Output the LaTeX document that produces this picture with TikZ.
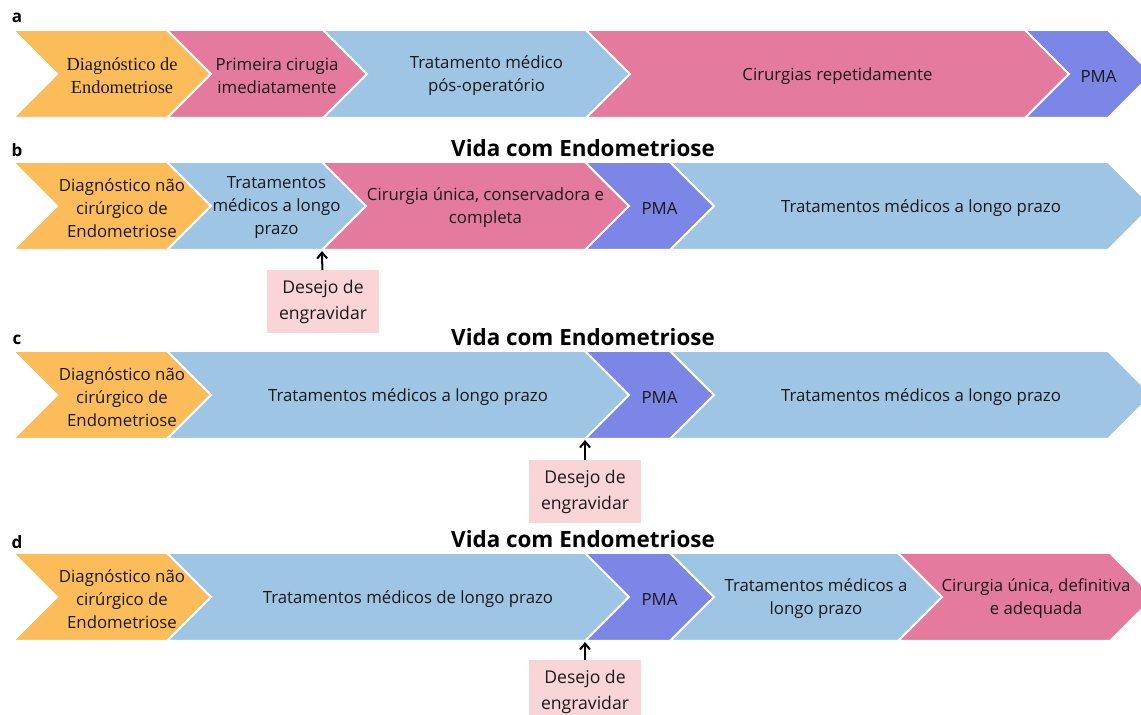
\documentclass[tikz,border=0pt]{standalone}
\usepackage{fontspec}
\setmainfont{Open Sans}
\newfontfamily\georgiaish{Liberation Serif}
\usetikzlibrary{arrows.meta}

\definecolor{diagcol}{RGB}{253,188,90}
\definecolor{surgcol}{RGB}{228,122,158}
\definecolor{medcol}{RGB}{159,197,228}
\definecolor{pmacol}{RGB}{123,134,230}
\definecolor{wishcol}{RGB}{250,213,215}
\definecolor{inkcol}{RGB}{25,25,25}

\tikzset{
  phase/.style={align=center, text=inkcol, font=\fontsize{8.4}{11.5}\selectfont},
  wishbox/.style={fill=wishcol, minimum width=56pt, minimum height=31.5pt, inner sep=0pt,
    align=center, text=inkcol, font=\fontsize{8.8}{13}\selectfont},
  rowtitle/.style={font=\fontsize{11.2}{13}\selectfont\bfseries},
  rowtag/.style={font=\fontsize{8.5}{10}\selectfont\bfseries},
  wish/.style={-{Straight Barb[length=3pt,width=5pt]}, line width=1pt}
}

% name, left x, right x, top y, fill, text
\newcommand{\chevron}[7][]{%
  \filldraw[fill=#6, draw=white, line width=1pt] (#3,#5) -- (#4,#5) -- ++(44,44) -- ++(-44,44)
    -- (#3,#5+88) -- ++(44,-44) -- cycle;
  \node[phase,#1] (#2) at ({(#3+#4)/2+32},#5+46) {#7};
}

\begin{document}
\begin{tikzpicture}[x=0.5pt, y=-0.5pt]
  \useasboundingbox (0,0) rectangle (1141,715);
  \clip (0,0) rectangle (1141,715);

  % a
  \node[rowtag] (taga) at (17,18) {a};
  \chevron[font=\georgiaish\fontsize{9.2}{11.5}\selectfont]{a1}{13}{167}{30}{diagcol}{Diagnóstico de\\Endometriose}
  \chevron{a2}{167}{323}{30}{surgcol}{Primeira cirugia\\imediatamente}
  \chevron{a3}{323}{586}{30}{medcol}{Tratamento médico\\pós-operatório}
  \chevron{a4}{586}{1025}{30}{surgcol}{Cirurgias repetidamente}
  \chevron{a5}{1025}{1108}{30}{pmacol}{PMA}

  % b
  \node[rowtag] (tagb) at (17,150) {b};
  \node[rowtitle] (titleb) at (583,148) {Vida com Endometriose};
  \chevron{b1}{13}{167}{162}{diagcol}{Diagnóstico não\\cirúrgico de\\Endometriose}
  \chevron{b2}{167}{322}{162}{medcol}{Tratamentos\\médicos a longo\\prazo}
  \chevron{b3}{322}{585}{162}{surgcol}{Cirurgia única, conservadora e\\completa}
  \chevron{b4}{585}{670}{162}{pmacol}{PMA}
  \chevron{b5}{670}{1108}{162}{medcol}{Tratamentos médicos a longo prazo}
  \coordinate (wishb) at (322,251);
  \node[wishbox] (boxb) at (323,302) {Desejo de\\engravidar};
  \draw[wish] (boxb) -- (wishb);

  % c
  \node[rowtag] (tagc) at (17,340) {c};
  \node[rowtitle] (titlec) at (583,337) {Vida com Endometriose};
  \chevron{c1}{13}{167}{351}{diagcol}{Diagnóstico não\\cirúrgico de\\Endometriose}
  \chevron{c2}{167}{585}{351}{medcol}{Tratamentos médicos a longo prazo}
  \chevron{c3}{585}{670}{351}{pmacol}{PMA}
  \chevron{c4}{670}{1108}{351}{medcol}{Tratamentos médicos a longo prazo}
  \coordinate (wishc) at (585,440);
  \node[wishbox] (boxc) at (585,492) {Desejo de\\engravidar};
  \draw[wish] (boxc) -- (wishc);

  % d
  \node[rowtag] (tagd) at (17,542) {d};
  \node[rowtitle] (titled) at (583,539) {Vida com Endometriose};
  \chevron{d1}{13}{167}{553}{diagcol}{Diagnóstico não\\cirúrgico de\\Endometriose}
  \chevron{d2}{167}{585}{553}{medcol}{Tratamentos médicos de longo prazo}
  \chevron{d3}{585}{670}{553}{pmacol}{PMA}
  \chevron{d4}{670}{898}{553}{medcol}{Tratamentos médicos a\\longo prazo}
  \chevron{d5}{898}{1110}{553}{surgcol}{Cirurgia única, definitiva\\e adequada}
  \coordinate (wishd) at (585,642);
  \node[wishbox] (boxd) at (585,692) {Desejo de\\engravidar};
  \draw[wish] (boxd) -- (wishd);
\end{tikzpicture}
\end{document}
